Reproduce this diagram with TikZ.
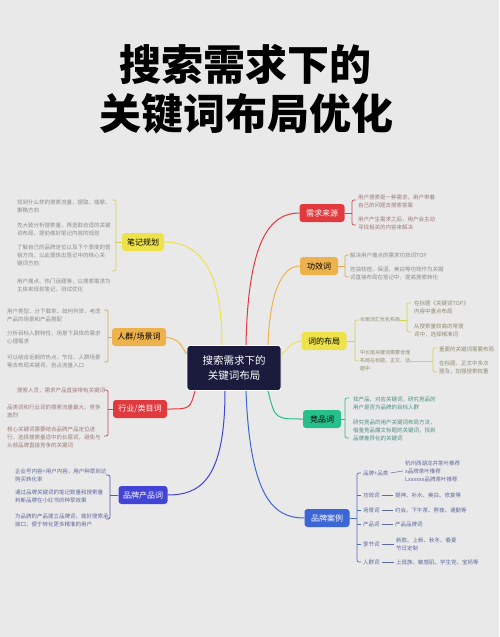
\documentclass[tikz,border=0pt]{standalone}
\usepackage{fontspec}
\setmainfont{Noto Sans CJK SC}
\usetikzlibrary{positioning,calc}

\definecolor{paper}{HTML}{E9E9E9}
\definecolor{navy}{HTML}{1B1B3D}
\definecolor{cyellow}{HTML}{EDE24A}
\definecolor{corange}{HTML}{EDB24C}
\definecolor{cred}{HTML}{E03A3E}
\definecolor{cindigo}{HTML}{4343D6}
\definecolor{cgreen}{HTML}{27C08A}
\definecolor{cblue}{HTML}{3C66D6}
\definecolor{notegray}{HTML}{8C8C8C}
\definecolor{redgray}{HTML}{A07A7A}
\definecolor{bluegray}{HTML}{5E6A9C}
\definecolor{greengray}{HTML}{4E8E7E}
\definecolor{olivegray}{HTML}{8E8C72}

\tikzset{
  topic/.style={fill=#1, rounded corners=3pt, inner sep=0pt, minimum height=18pt,
    font=\fontsize{8}{9}\selectfont},
  note/.style={anchor=west, align=left, inner sep=0pt, text=notegray,
    font=\fontsize{5.5}{8}\selectfont},
  link/.style={line width=1pt},
  brace/.style={line width=0.7pt, rounded corners=2pt},
}

\begin{document}
\begin{tikzpicture}[x=1pt, y=-1pt]
  \useasboundingbox (0,0) rectangle (499,637);
  \fill[paper] (0,0) rectangle (499,637);

  % title
  \node[font=\fontsize{42}{42}\selectfont\bfseries] (title1) at (245,64) {搜索需求下的};
  \node[font=\fontsize{42}{42}\selectfont\bfseries] (title2) at (246,114) {关键词布局优化};

  % centre
  \node[fill=navy, draw=white, line width=0.8pt, rounded corners=3pt, text=white,
    minimum width=94pt, minimum height=45pt, align=center,
    font=\fontsize{10.5}{15}\selectfont] (hub) at (234,368) {搜索需求下的\\关键词布局};

  % topics
  \node[topic=cyellow, minimum width=42pt] (plan) at (143,242) {笔记规划};
  \node[topic=corange, minimum width=54pt] (crowd) at (139,337) {人群/场景词};
  \node[topic=cred, minimum width=54pt, text=white] (trade) at (140,409) {行业/类目词};
  \node[topic=cindigo, minimum width=49pt, text=white] (brand) at (143,495) {品牌产品词};
  \node[topic=cred, minimum width=45pt, text=white] (demand) at (322,213) {需求来源};
  \node[topic=corange, minimum width=38pt] (effect) at (319,266) {功效词};
  \node[topic=cyellow, minimum width=45pt] (layout) at (324,341) {词的布局};
  \node[topic=cgreen, minimum width=38pt] (rival) at (322,419) {竞品词};
  \node[topic=cblue, minimum width=45pt, text=white] (cases) at (327,518) {品牌案例};

  % links from centre
  \draw[link, cyellow] ([xshift=-12pt]hub.north) .. controls (222,270) and (200,242) .. (plan.east);
  \draw[link, corange] ([yshift=14pt]hub.west) .. controls (178,340) .. (crowd.east);
  \draw[link, cred] ([xshift=-39pt]hub.south) .. controls (190,409) .. (trade.east);
  \draw[link, cindigo] ([xshift=-9pt]hub.south) .. controls (225,480) and (200,495) .. (brand.east);
  \draw[link, cred] ([xshift=12pt]hub.north) .. controls (248,240) and (270,213) .. (demand.west);
  \draw[link, corange] ([xshift=34pt]hub.north) .. controls (270,285) and (285,266) .. (effect.west);
  \draw[link, cyellow] ([yshift=13pt]hub.east) .. controls (292,343) .. (layout.west);
  \draw[link, cgreen] ([xshift=34pt]hub.south) .. controls (275,419) .. (rival.west);
  \draw[link, cblue] ([xshift=12pt]hub.south) .. controls (250,500) and (275,518) .. (cases.west);

  % 笔记规划
  \draw[brace, cyellow!80!gray] (plan.west) -- ++(-6.5,0);
  \draw[brace, cyellow!80!gray] (112,200) -- (116,200) -- (116,271) -- (112,271);
  \node[note] (plan1) at (17,206) {找到什么样的搜索流量，提取、揣摩、\\策略方向};
  \node[note] (plan2) at (17,229) {先大致分析搜索量，再选取合适的关键\\词布局，提前做好笔记内容的规划};
  \node[note] (plan3) at (17,255) {了解自己的品牌定位以及下个季度的营\\销方向，以此提炼出笔记中的核心关\\键词方向};
  \node[note] (plan4) at (17,285) {用户痛点、热门话题等，以搜索需求为\\主体来规划笔记，测试优化};

  % 人群/场景词
  \draw[brace, corange!80!gray] (crowd.west) -- ++(-4,0);
  \draw[brace, corange!80!gray] (104,310) -- (108,310) -- (108,362) -- (104,362);
  \node[note] (crowd1) at (7,315) {用户类型、分下载率、如何列举，考虑\\产品的场景和产品搭配};
  \node[note] (crowd2) at (7,337) {分析目标人群特性，场景下具体的需求\\心理需求};
  \node[note] (crowd3) at (7,361) {可以结合近期的热点、节日、人群场景\\等去布局关键词，抢占流量入口};

  % 行业/类目词
  \draw[brace, cred!70!gray] (trade.west) -- ++(-5,0);
  \draw[brace, cred!70!gray] (104,390) -- (108,390) -- (108,436) -- (104,436);
  \node[note, text=redgray] (trade1) at (17,390) {搜索人员，需求产品直接带有关键词};
  \node[note, text=redgray] (trade2) at (7,411) {品类词和行业词的搜索流量最大，竞争\\激烈};
  \node[note, text=redgray] (trade3) at (7,437) {核心关键词需要结合品牌产品定位进\\行，选择搜索量适中的长尾词，避免与\\头部品牌直接竞争的关键词};

  % 品牌产品词
  \draw[brace, cindigo!70!gray] (brand.west) -- ++(-8.5,0);
  \draw[brace, cindigo!70!gray] (106,475) -- (110,475) -- (110,519) -- (106,519);
  \node[note, text=bluegray] (brand1) at (15,475) {企业号内容+用户内容，用户种草到达\\购买转化率};
  \node[note, text=bluegray] (brand2) at (15,496) {通过品牌关键词的笔记数量和搜索量\\判断品牌在小红书的种草效果};
  \node[note, text=bluegray] (brand3) at (15,520) {为品牌的产品建立品牌词，做好搜索承\\接口，便于转化更多精准的用户};

  % 需求来源
  \draw[brace, cred!70!gray] (demand.east) -- ++(7.5,0);
  \draw[brace, cred!70!gray] (356,200) -- (352,200) -- (352,225) -- (356,225);
  \node[note, text=redgray] (demand1) at (358,201) {用户搜索是一种需求，用户带着\\自己的问题去搜索答案};
  \node[note, text=redgray] (demand2) at (358,223) {用户产生需求之后，用户会主动\\寻找相关的内容来解决};

  % 功效词
  \draw[brace, corange!80!gray] (effect.east) -- ++(7,0);
  \draw[brace, corange!80!gray] (349,255) -- (345,255) -- (345,277) -- (349,277);
  \node[note] (effect1) at (350,255) {解决用户痛点的需求功效词TOP};
  \node[note] (effect2) at (350,273) {控油祛痘、保湿、美白等功效作为关键\\词直接布局在笔记中，提高搜索转化};

  % 词的布局
  \draw[brace, cyellow!80!gray] (layout.east) -- ++(8.5,0);
  \draw[brace, cyellow!80!gray] (359,320) -- (355,320) -- (355,361) -- (359,361);
  \node[note, text=olivegray, font=\fontsize{5}{7}\selectfont] (lay1) at (360,320) {长尾词汇优化布局};
  \node[note, text=olivegray, font=\fontsize{5}{8}\selectfont] (lay2) at (360,361) {中长尾关键词需要合理\\布局在标题、正文、话\\题中};
  \draw[brace, cyellow!80!gray] (lay1.east) -- ++(7,0);
  \draw[brace, cyellow!80!gray] (411,303) -- (407,303) -- (407,332) -- (411,332);
  \node[note, text=olivegray] (lay1a) at (414,307) {在标题《关键词TOP》\\内容中重点布局};
  \node[note, text=olivegray] (lay1b) at (414,330) {从搜索量较高的常搜\\词中，选择精准词};
  \draw[brace, cyellow!80!gray] (lay2.east) -- ++(23,0);
  \draw[brace, cyellow!80!gray] (437,348) -- (433,348) -- (433,372) -- (437,372);
  \node[note, text=olivegray] (lay2a) at (439,349) {重要的关键词需要布局};
  \node[note, text=olivegray] (lay2b) at (439,367) {在标题、正文中多次\\提及，加强搜索权重};

  % 竞品词
  \draw[brace, cgreen!80!gray] (rival.east) -- ++(4,0);
  \draw[brace, cgreen!80!gray] (349,398) -- (345,398) -- (345,438) -- (349,438);
  \node[note, text=greengray] (rival1) at (353,403) {找产品、对应关键词，研究竞品的\\用户是否为品牌的目标人群};
  \node[note, text=greengray] (rival2) at (353,430) {研究竞品的用户关键词布局方法，\\借鉴竞品爆文标题的关键词，找到\\品牌差异化的关键词};

  % 品牌案例
  \draw[brace, cblue!70!gray] (cases.east) -- ++(7.5,0);
  \draw[brace, cblue!70!gray] (361,473) -- (357,473) -- (357,562) -- (361,562);
  \foreach \y in {495,510,524,544} {
    \draw[brace, cblue!70!gray] (357,\y) -- (361,\y);
  }
  \node[note, text=bluegray] (case1) at (363,473) {品牌+品类};
  \node[note, text=bluegray] (case2) at (363,495) {功效词};
  \node[note, text=bluegray] (case3) at (363,510) {场景词};
  \node[note, text=bluegray] (case4) at (363,524) {产品词};
  \node[note, text=bluegray] (case5) at (363,544) {季节词};
  \node[note, text=bluegray] (case6) at (363,562) {人群词};
  \node[note, text=bluegray] (case1n) at (405,471) {杭州西湖龙井茶叶推荐\\x品牌茶叶推荐\\Lxxxxxx品牌茶叶推荐};
  \node[note, text=bluegray] (case2n) at (395,495) {提神、补水、美白、修复等};
  \node[note, text=bluegray] (case3n) at (395,510) {约会、下午茶、熬夜、通勤等};
  \node[note, text=bluegray] (case4n) at (395,524) {产品品牌词};
  \node[note, text=bluegray] (case5n) at (396,544) {新款、上新、秋冬、春夏\\节日定制};
  \node[note, text=bluegray] (case6n) at (396,562) {上班族、敏感肌、学生党、宝妈等};
  \foreach \i in {1,...,6} {
    \draw[bluegray, line width=0.5pt] ([xshift=2pt]case\i.east) -- ([xshift=-2pt]case\i n.west);
  }
\end{tikzpicture}
\end{document}
